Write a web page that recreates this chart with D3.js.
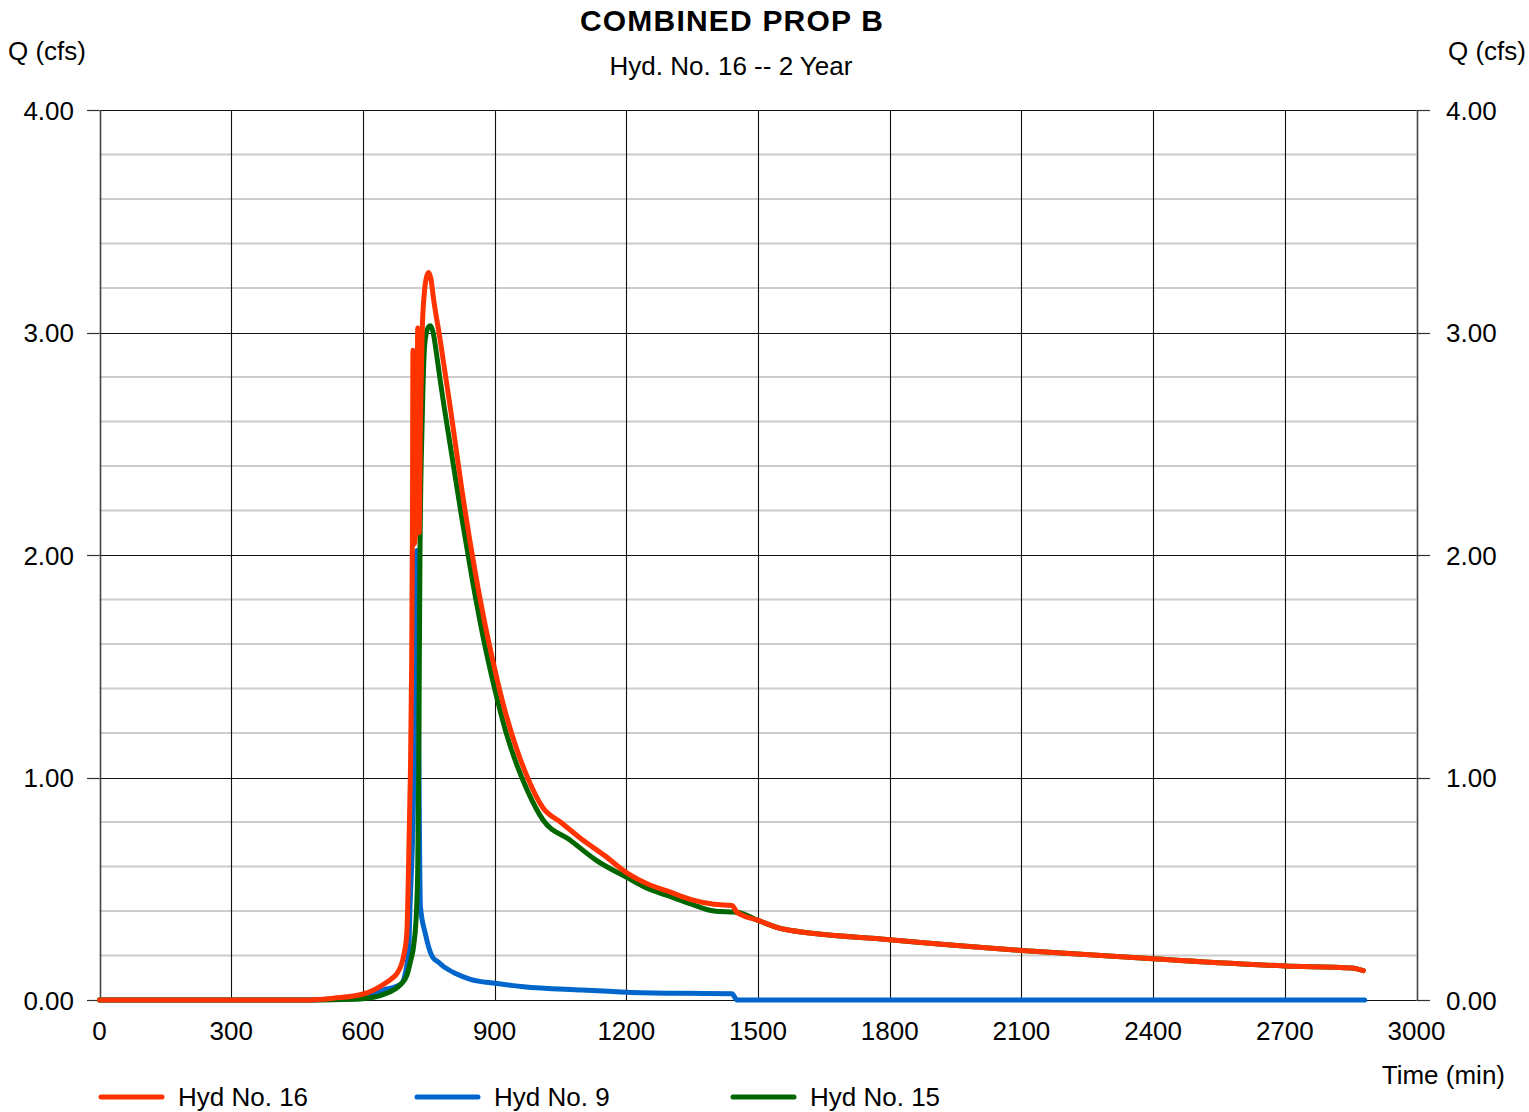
<!DOCTYPE html>
<html>
<head>
<meta charset="utf-8">
<script src="https://cdn.jsdelivr.net/npm/d3@7/dist/d3.min.js"></script>
<style>
  html, body { margin: 0; padding: 0; background: #fff; }
  svg { display: block; font-family: "Liberation Sans", Arial, sans-serif; }
</style>
</head>
<body>
<svg id="chart" width="1529" height="1112"></svg>
<script>
// ---- Data ----
const title = "COMBINED PROP B";
const subtitle = "Hyd. No. 16 -- 2 Year";
const yAxisLabel = "Q (cfs)";
const xAxisLabel = "Time (min)";

const xTicks = [0, 300, 600, 900, 1200, 1500, 1800, 2100, 2400, 2700, 3000];
const yTicks = [0, 1, 2, 3, 4];
const yMinorTicks = [0.2, 0.4, 0.6, 0.8, 1.2, 1.4, 1.6, 1.8, 2.2, 2.4, 2.6, 2.8, 3.2, 3.4, 3.6, 3.8];

const seriesNames = ["Hyd No. 16", "Hyd No. 9", "Hyd No. 15"];
const seriesColors = ["#ff3300", "#0066cc", "#006600"];

// Hyd No. 16 (combined)
const hyd16Time = [0, 480, 533, 601, 625, 647, 665, 678, 693, 700, 703, 708, 711, 713, 714, 717, 720, 723, 725, 728, 731, 735, 740, 745, 750, 755, 761, 775, 800, 825, 850, 875, 900, 925, 950, 975, 1010, 1050, 1100, 1150, 1202, 1250, 1293, 1350, 1400, 1441, 1452, 1500, 1557, 1800, 2100, 2400, 2700, 2852, 2879];
const hyd16Q    = [0, 0, 0.008, 0.027, 0.045, 0.07, 0.095, 0.12, 0.2, 0.3, 0.5, 1.0, 1.5, 2.2, 2.92, 2.05, 2.1, 2.5, 3.02, 2.1, 2.6, 3.0, 3.18, 3.25, 3.27, 3.24, 3.15, 2.98, 2.65, 2.30, 1.99, 1.72, 1.49, 1.29, 1.13, 1.0, 0.864, 0.80, 0.72, 0.65, 0.57, 0.52, 0.49, 0.45, 0.43, 0.425, 0.394, 0.358, 0.319, 0.271, 0.223, 0.185, 0.153, 0.144, 0.132];

// Hyd No. 9
const hyd9Time = [0, 480, 530, 600, 647, 686, 704, 707, 716, 719, 723, 731, 742, 758, 772, 784, 810, 845, 902, 966, 1100, 1202, 1330, 1441, 1452, 2882];
const hyd9Q    = [0, 0, 0.004, 0.013, 0.045, 0.07, 0.21, 0.4, 1.0, 1.8, 2.02, 0.42, 0.3, 0.195, 0.17, 0.15, 0.12, 0.093, 0.075, 0.06, 0.045, 0.035, 0.03, 0.028, 0, 0];

// Hyd No. 15
const hyd15Time = [0, 500, 550, 600, 647, 686, 700, 708, 716, 722, 725, 727, 730, 735, 741, 748, 754, 760, 768, 775, 800, 825, 850, 875, 900, 925, 950, 975, 1010, 1071, 1130, 1202, 1250, 1293, 1350, 1400, 1445, 1452, 1500, 1557, 1800, 2100, 2400, 2700, 2852, 2879];
const hyd15Q    = [0, 0, 0.002, 0.006, 0.025, 0.07, 0.11, 0.17, 0.25, 0.4, 0.6, 1.0, 2.0, 2.6, 2.95, 3.02, 3.03, 3.0, 2.9, 2.80, 2.48, 2.17, 1.88, 1.62, 1.40, 1.21, 1.06, 0.94, 0.81, 0.72, 0.63, 0.55, 0.50, 0.47, 0.43, 0.40, 0.395, 0.394, 0.358, 0.319, 0.271, 0.223, 0.185, 0.153, 0.144, 0.132];

// ---- Build ----
const series = [
  { name: seriesNames[0], color: seriesColors[0], pts: hyd16Time.map((t, i) => [t, hyd16Q[i]]) },
  { name: seriesNames[1], color: seriesColors[1], pts: hyd9Time.map((t, i) => [t, hyd9Q[i]]) },
  { name: seriesNames[2], color: seriesColors[2], pts: hyd15Time.map((t, i) => [t, hyd15Q[i]]) }
];

const svg = d3.select("#chart");
const L = 99.5, R = 1416.5, T = 110, B = 1000;
const x = d3.scaleLinear().domain([0, 3000]).range([L, R]);
const y = d3.scaleLinear().domain([0, 4]).range([B, T]);

const g = svg.append("g");

// minor horizontal grid
g.selectAll("line.minor").data(yMinorTicks).enter().append("line")
  .attr("x1", L).attr("x2", R)
  .attr("y1", d => y(d)).attr("y2", d => y(d))
  .attr("stroke", "#cccccc").attr("stroke-width", 2);

// major horizontal grid
g.selectAll("line.major").data(yTicks).enter().append("line")
  .attr("x1", L).attr("x2", R)
  .attr("y1", d => Math.round(y(d)) + 0.5).attr("y2", d => Math.round(y(d)) + 0.5)
  .attr("stroke", "#111").attr("stroke-width", 1.2);

// vertical grid
g.selectAll("line.vgrid").data(xTicks).enter().append("line")
  .attr("x1", d => Math.round(x(d)) + 0.5).attr("x2", d => Math.round(x(d)) + 0.5)
  .attr("y1", T).attr("y2", B)
  .attr("stroke", (d, i) => (i === 0 || i === xTicks.length - 1) ? "#444" : "#111")
  .attr("stroke-width", (d, i) => (i === 0 || i === xTicks.length - 1) ? 1.6 : 1.1);

// tick marks left/right
g.selectAll("line.ltick").data(yTicks).enter().append("line")
  .attr("x1", 87).attr("x2", L)
  .attr("y1", d => Math.round(y(d)) + 0.5).attr("y2", d => Math.round(y(d)) + 0.5)
  .attr("stroke", "#333").attr("stroke-width", 1.2);
g.selectAll("line.rtick").data(yTicks).enter().append("line")
  .attr("x1", R).attr("x2", 1430)
  .attr("y1", d => Math.round(y(d)) + 0.5).attr("y2", d => Math.round(y(d)) + 0.5)
  .attr("stroke", "#333").attr("stroke-width", 1.2);

// tick labels
const fmt = d3.format(".2f");
g.selectAll("text.yl").data(yTicks).enter().append("text")
  .attr("x", 74).attr("y", d => y(d) + 9.5)
  .attr("text-anchor", "end").attr("font-size", 26).attr("fill", "#000")
  .text(d => fmt(d));
g.selectAll("text.yr").data(yTicks).enter().append("text")
  .attr("x", 1446).attr("y", d => y(d) + 9.5)
  .attr("text-anchor", "start").attr("font-size", 26).attr("fill", "#000")
  .text(d => fmt(d));
g.selectAll("text.xl").data(xTicks).enter().append("text")
  .attr("x", d => x(d)).attr("y", 1040)
  .attr("text-anchor", "middle").attr("font-size", 26).attr("fill", "#000")
  .text(d => d);

// axis labels
svg.append("text").attr("x", 8).attr("y", 60).attr("font-size", 26).text(yAxisLabel);
svg.append("text").attr("x", 1526).attr("y", 60).attr("text-anchor", "end").attr("font-size", 26).text(yAxisLabel);
svg.append("text").attr("x", 1505).attr("y", 1084).attr("text-anchor", "end").attr("font-size", 26).text(xAxisLabel);

// title
svg.append("text").attr("x", 732).attr("y", 31).attr("text-anchor", "middle")
  .attr("font-size", 30).attr("font-weight", "bold").attr("letter-spacing", 1.2).text(title);
svg.append("text").attr("x", 731).attr("y", 75).attr("text-anchor", "middle")
  .attr("font-size", 26).text(subtitle);

// lines
const line = d3.line().x(d => x(d[0])).y(d => y(d[1])).curve(d3.curveMonotoneX);
const drawOrder = [1, 2, 0];
drawOrder.forEach(i => {
  g.append("path").datum(series[i].pts)
    .attr("d", line)
    .attr("fill", "none")
    .attr("stroke", series[i].color)
    .attr("stroke-width", 5)
    .attr("stroke-linejoin", "round")
    .attr("stroke-linecap", "round");
});

// legend
const legendX = [99, 415, 731];
series.forEach((s, i) => {
  const lg = svg.append("g");
  lg.append("line").attr("x1", legendX[i] + 2).attr("x2", legendX[i] + 63)
    .attr("y1", 1097).attr("y2", 1097)
    .attr("stroke", s.color).attr("stroke-width", 5).attr("stroke-linecap", "round");
  lg.append("text").attr("x", legendX[i] + 79).attr("y", 1106)
    .attr("font-size", 26).attr("fill", "#000").text(s.name);
});
</script>
</body>
</html>
